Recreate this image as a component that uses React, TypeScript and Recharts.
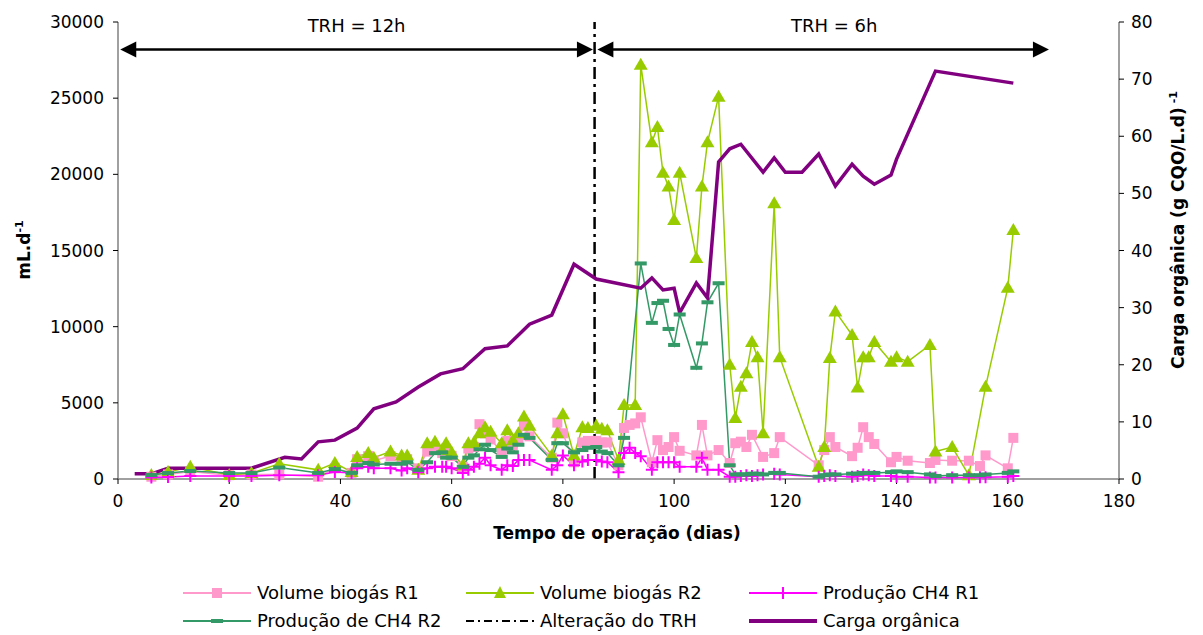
import React from 'react'
import {
  LineChart, Line, XAxis, YAxis, ReferenceLine,
} from 'recharts'

// dias de amostragem (comuns às séries de biogás e CH4)
const dias = [
  6, 9, 13, 20, 24, 29, 36, 39, 42, 43, 45, 46, 49, 51, 52, 54, 55.6, 57, 58.3, 59,
  60, 62, 63, 64, 65, 66, 67, 69, 70, 71, 72, 73, 74, 78, 79, 80, 82, 83.5, 84.5, 86,
  87, 88, 90, 91, 92, 93, 94, 96, 97, 98, 99, 100, 101, 104, 105, 106, 108, 110, 111, 112,
  113, 114, 115, 116, 118, 119, 126, 127, 128, 129, 132, 133, 134, 135, 136, 139, 140, 142, 146, 147,
  150, 153, 155, 156, 160, 161,
]

const volumeR1 = [
  150, 300, 500, 250, 300, 300, 150, 700, 400, 1300, 1500, 1200, 1500, 1300, 1300, 700, 1800, 2000, 1700, 2000,
  1500, 800, 2000, 2100, 3600, 3000, 2600, 1800, 2500, 2200, 2600, 3500, 2800, 1400, 3700, 3000, 1100, 2400, 2500, 2500,
  2400, 2400, 900, 3350, 3550, 3650, 4050, 1100, 2550, 1900, 2100, 2750, 1850, 1550, 3550, 1550, 1900, 1050, 2350, 2450,
  2100, 2900, null, 1450, 1700, 2750, 900, 1900, 2750, 2100, 1500, 2050, 3400, 2750, 2300, 1100, 1450, 1200, 1050, 1250,
  1200, 1200, 850, 1550, 700, 2700,
]

const volumeR2 = [
  260, 460, 800, 260, 390, 1000, 600, 1050, 460, 1450, 1700, 1400, 1800, 1550, 1550, 600, 2350, 2450, 1900, 2350,
  1750, 900, 2350, 2400, 3000, 3400, 3100, 2350, 3200, 2550, 3000, 4100, 3500, 1550, 3000, 4250, 1550, 3400, 3350, 3500,
  3300, 3200, 1250, 4850, null, 4850, 27200, 22100, 23100, 20100, 19200, 17000, 20100, 14500, 19200, 22100, 25100, 7500, 4000, 6050,
  6950, 9000, 8000, 3000, 18100, 8000, 800, 2100, 7950, 11000, 9450, 6000, 8000, 8000, 9000, 7700, 8000, 7700, 8800, 1800,
  2100, 250, null, 6050, 12550, 16350,
]

const ch4R1 = [
  100, 130, 200, 200, 200, 250, 250, 460, 400, 700, 800, 700, 700, 550, 700, 450, 700, 800, 800, 800,
  700, 400, 600, 800, 1000, 1400, 900, 600, 900, 850, 1250, 1250, 1250, 600, 900, 1550, 900, 1150, 1250, 1250,
  1150, 1100, 450, 1700, 2050, 1700, 1500, 600, 1100, 1100, 1100, 1100, 800, 800, 1400, 600, 600, 150, 150, 200,
  250, 200, 250, 300, 350, 300, 150, 200, 250, 200, 150, 200, 300, 250, 200, 200, 150, 150, 100, 100,
  100, 100, 120, 120, 150, 200,
]

const ch4R2 = [
  260, 390, 525, 390, 390, 750, 400, 650, 400, 900, 1050, 950, 1000, 1000, 1100, 600, 1100, 1700, 1750, 1400,
  1400, 800, 1400, 1550, 1950, 2250, 1900, 1450, 2000, 1750, 2250, 2900, 2700, 1250, 2350, 2350, 1750, 1900, 2050, 2100,
  1800, 1700, 900, 2700, null, null, 14150, 10250, 11550, 11700, 9850, 8800, 10800, 7300, 8900, 11600, 12850, 900, 300, 300,
  300, 350, 350, 300, 400, 400, 150, 250, 300, 300, 350, 350, 400, 400, 400, 450, 500, 450, 300, 200,
  250, 250, 250, 300, 400, 500,
]

// carga orgânica (eixo direito)
const diasCarga = [
  3, 6, 9, 24, 30, 33, 36, 39, 43, 46, 50, 54, 58, 62, 66, 70, 74, 78, 82, 86,
  94, 96, 98, 100, 101, 104, 106, 108, 110, 112, 116, 118, 120, 123, 126, 129, 132, 134, 136, 139,
  140, 147, 161,
]
const carga = [
  0.9, 0.9, 1.9, 1.9, 3.8, 3.5, 6.5, 6.8, 8.9, 12.3, 13.5, 16.1, 18.4, 19.3, 22.8, 23.3, 27.1, 28.7, 37.6, 35.0,
  33.4, 35.2, 33.1, 33.4, 29.1, 34.3, 31.7, 55.5, 57.8, 58.6, 53.7, 56.2, 53.7, 53.7, 56.9, 51.3, 55.1, 53.0, 51.6, 53.2,
  56.0, 71.4, 69.3,
]

const xTicks = [0, 20, 40, 60, 80, 100, 120, 140, 160, 180]
const yTicks = [0, 5000, 10000, 15000, 20000, 25000, 30000]
const y2Ticks = [0, 10, 20, 30, 40, 50, 60, 70, 80]
const alteracaoTRH = 85.7

const rows = dias.map((d, i) => ({
  dia: d, r1: volumeR1[i], r2: volumeR2[i], ch4r1: ch4R1[i], ch4r2: ch4R2[i],
}))
const cargaRows = diasCarga.map((d, i) => ({ dia: d, carga: carga[i] }))

const FONT = '"DejaVu Sans", Verdana, sans-serif'

const Square = (p: any) =>
  p.cy == null ? <g key={p.key} /> :
    <rect key={p.key} x={p.cx - 5} y={p.cy - 5} width={10} height={10} fill="#FF99CC" />
const Triangle = (p: any) =>
  p.cy == null ? <g key={p.key} /> :
    <polygon key={p.key} points={`${p.cx},${p.cy - 7} ${p.cx - 7},${p.cy + 5} ${p.cx + 7},${p.cy + 5}`} fill="#99CC00" />
const Plus = (p: any) =>
  p.cy == null ? <g key={p.key} /> :
    <path key={p.key} d={`M${p.cx - 6},${p.cy}H${p.cx + 6}M${p.cx},${p.cy - 6}V${p.cy + 6}`} stroke="#FF00FF" strokeWidth={2} />
const Dash = (p: any) =>
  p.cy == null ? <g key={p.key} /> :
    <rect key={p.key} x={p.cx - 6} y={p.cy - 2} width={12} height={4} fill="#339966" />

const arrowShape = (label: string, dxLabel: number) => (p: any) => {
  const { x1, y1, x2 } = p
  const h = 8, l = 16
  return (
    <g>
      <line x1={x1 + l - 2} y1={y1} x2={x2 - l + 2} y2={y1} stroke="#000" strokeWidth={2.5} />
      <polygon points={`${x1},${y1} ${x1 + l},${y1 - h} ${x1 + l},${y1 + h}`} fill="#000" />
      <polygon points={`${x2},${y1} ${x2 - l},${y1 - h} ${x2 - l},${y1 + h}`} fill="#000" />
      <text x={(x1 + x2) / 2 + dxLabel} y={y1 - 17} textAnchor="middle" fontSize={18} fontFamily={FONT} fill="#000">
        {label}
      </text>
    </g>
  )
}

const LeftTitle = () => (
  <text x={22} y={242} transform="rotate(-90 22 242)" textAnchor="middle" fontSize={17}
    fontWeight="bold" fontFamily={FONT} fill="#000">
    mL.d<tspan fontSize={11} dy={-7}>-1</tspan>
  </text>
)
const RightTitle = () => (
  <text x={1176} y={222} transform="rotate(-90 1176 222)" textAnchor="middle" fontSize={17}
    fontWeight="bold" fontFamily={FONT} fill="#000">
    Carga orgânica (g CQO/L.d)<tspan fontSize={11} dy={-7}> -1</tspan>
  </text>
)
const BottomTitle = () => (
  <text x={609} y={531} textAnchor="middle" fontSize={17} fontWeight="bold" fontFamily={FONT} fill="#000">
    Tempo de operação (dias)
  </text>
)

type LegendItem = { name: string; color: string; width: number; dash?: string; mark?: string }
const legendItems: LegendItem[] = [
  { name: 'Volume biogás R1', color: '#FF99CC', width: 2, mark: 'square' },
  { name: 'Volume biogás R2', color: '#99CC00', width: 2, mark: 'triangle' },
  { name: 'Produção CH4 R1', color: '#FF00FF', width: 2, mark: 'plus' },
  { name: 'Produção de CH4 R2', color: '#339966', width: 2, mark: 'dash' },
  { name: 'Alteração do TRH', color: '#000', width: 2, dash: '8 4 2 4' },
  { name: 'Carga orgânica', color: '#800080', width: 4 },
]

function LegendSwatch({ it }: { it: LegendItem }) {
  const c = 34
  return (
    <svg width={68} height={20} style={{ display: 'block' }}>
      <line x1={0} y1={10} x2={68} y2={10} stroke={it.color} strokeWidth={it.width} strokeDasharray={it.dash} />
      {it.mark === 'square' && <rect x={c - 5} y={5} width={10} height={10} fill={it.color} />}
      {it.mark === 'triangle' && <polygon points={`${c},3 ${c - 6},15 ${c + 6},15`} fill={it.color} />}
      {it.mark === 'plus' && <path d={`M${c - 6},10H${c + 6}M${c},4V16`} stroke={it.color} strokeWidth={2} />}
      {it.mark === 'dash' && <rect x={c - 6} y={8} width={12} height={4} fill={it.color} />}
    </svg>
  )
}

export default function App() {
  const colX = [175, 458, 741]
  const rowY = [574, 602]
  return (
    <div style={{ position: 'relative', width: 1195, height: 627, fontFamily: FONT }}>
      <LineChart width={1195} height={627} margin={{ top: 14, right: 0, left: 0, bottom: 126 }}>
        <XAxis
          dataKey="dia" type="number" domain={[0, 180]} ticks={xTicks} allowDuplicatedCategory={false}
          height={30} tickSize={5} tickMargin={11}
          tick={{ fontSize: 17, fill: '#000', fontFamily: FONT }}
          axisLine={{ stroke: '#808080', strokeWidth: 1.5 }} tickLine={{ stroke: '#000' }}
          label={<BottomTitle />}
        />
        <YAxis
          yAxisId="left" domain={[0, 30000]} ticks={yTicks} width={110} tickSize={5} tickMargin={9}
          tick={{ fontSize: 17, fill: '#000', fontFamily: FONT }}
          axisLine={{ stroke: '#808080', strokeWidth: 1.5 }} tickLine={{ stroke: '#000' }}
          label={<LeftTitle />}
        />
        <YAxis
          yAxisId="right" orientation="right" domain={[0, 80]} ticks={y2Ticks} width={84} tickSize={5} tickMargin={7}
          tick={{ fontSize: 17, fill: '#000', fontFamily: FONT }}
          axisLine={{ stroke: '#808080', strokeWidth: 1.5 }} tickLine={{ stroke: '#000' }}
          label={<RightTitle />}
        />
        <Line data={rows} yAxisId="left" dataKey="r1" stroke="#FF99CC" strokeWidth={1.5} dot={Square}
          connectNulls isAnimationActive={false} />
        <Line data={rows} yAxisId="left" dataKey="r2" stroke="#99CC00" strokeWidth={1.5} dot={Triangle}
          connectNulls isAnimationActive={false} />
        <Line data={rows} yAxisId="left" dataKey="ch4r1" stroke="#FF00FF" strokeWidth={1.5} dot={Plus}
          connectNulls isAnimationActive={false} />
        <Line data={rows} yAxisId="left" dataKey="ch4r2" stroke="#339966" strokeWidth={1.5} dot={Dash}
          connectNulls isAnimationActive={false} />
        <ReferenceLine yAxisId="left" x={alteracaoTRH} stroke="#000" strokeWidth={2.5} strokeDasharray="12 5 3 5" />
        <Line data={cargaRows} yAxisId="right" dataKey="carga" stroke="#800080" strokeWidth={3.5} dot={false}
          isAnimationActive={false} />
        <ReferenceLine yAxisId="left" segment={[{ x: 0.4, y: 28200 }, { x: 85.4, y: 28200 }]}
          shape={arrowShape('TRH = 12h', 0)} />
        <ReferenceLine yAxisId="left" segment={[{ x: 86.2, y: 28200 }, { x: 167.4, y: 28200 }]}
          shape={arrowShape('TRH = 6h', 11)} />
      </LineChart>
      {legendItems.map((it, i) => (
        <div key={it.name} style={{
          position: 'absolute', left: colX[i % 3], top: rowY[Math.floor(i / 3)],
          display: 'flex', alignItems: 'center', gap: 6, fontSize: 18, whiteSpace: 'nowrap', color: '#000',
        }}>
          <LegendSwatch it={it} />
          <span>{it.name}</span>
        </div>
      ))}
    </div>
  )
}
